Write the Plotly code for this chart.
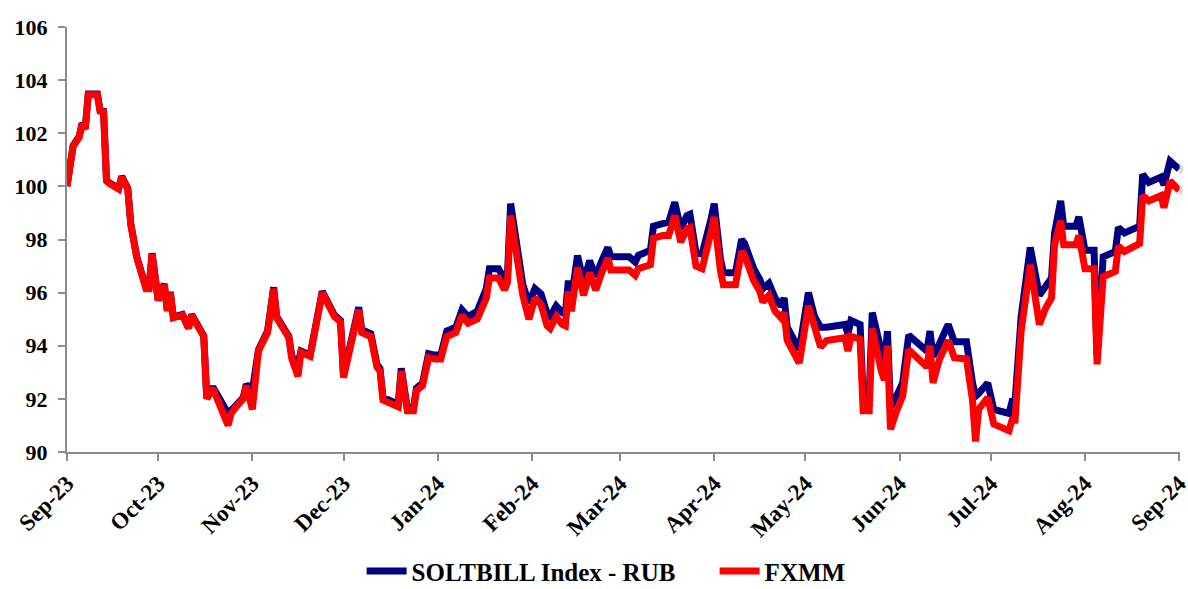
import plotly.graph_objects as go

dates = [
    "2023-09-01","2023-09-03","2023-09-05","2023-09-06","2023-09-07","2023-09-08","2023-09-11","2023-09-12",
    "2023-09-13","2023-09-14","2023-09-15","2023-09-18","2023-09-19","2023-09-21","2023-09-22","2023-09-24",
    "2023-09-27","2023-09-28","2023-09-29","2023-10-01","2023-10-03","2023-10-04","2023-10-05","2023-10-06",
    "2023-10-09","2023-10-11","2023-10-12","2023-10-16","2023-10-17","2023-10-19","2023-10-24","2023-10-25",
    "2023-10-27","2023-10-29","2023-10-30","2023-11-01","2023-11-03","2023-11-06","2023-11-08","2023-11-09",
    "2023-11-13","2023-11-14","2023-11-16","2023-11-17","2023-11-20","2023-11-21","2023-11-24","2023-11-28",
    "2023-11-30","2023-12-01","2023-12-04","2023-12-06","2023-12-07","2023-12-10","2023-12-12","2023-12-13",
    "2023-12-14","2023-12-17","2023-12-19","2023-12-20","2023-12-22","2023-12-24","2023-12-25","2023-12-27",
    "2023-12-29","2023-12-31","2024-01-02","2024-01-04","2024-01-07","2024-01-09","2024-01-11","2024-01-14",
    "2024-01-17","2024-01-18","2024-01-21","2024-01-23","2024-01-24","2024-01-25","2024-01-27","2024-01-29",
    "2024-01-31","2024-02-02","2024-02-04","2024-02-06","2024-02-07","2024-02-09","2024-02-11","2024-02-12",
    "2024-02-13","2024-02-14","2024-02-16","2024-02-18","2024-02-20","2024-02-22","2024-02-24","2024-02-26",
    "2024-02-27","2024-03-04","2024-03-06","2024-03-07","2024-03-11","2024-03-12","2024-03-15","2024-03-17",
    "2024-03-19","2024-03-21","2024-03-23","2024-03-24","2024-03-26","2024-03-28","2024-03-31","2024-04-01",
    "2024-04-03","2024-04-04","2024-04-08","2024-04-10","2024-04-11","2024-04-14","2024-04-16","2024-04-17",
    "2024-04-19","2024-04-21","2024-04-23","2024-04-24","2024-04-25","2024-04-28","2024-04-29","2024-05-02",
    "2024-05-04","2024-05-06","2024-05-08","2024-05-14","2024-05-15","2024-05-16","2024-05-19","2024-05-20",
    "2024-05-22","2024-05-23","2024-05-26","2024-05-27","2024-05-28","2024-05-29","2024-05-31","2024-06-02",
    "2024-06-04","2024-06-10","2024-06-11","2024-06-12","2024-06-14","2024-06-17","2024-06-19","2024-06-23",
    "2024-06-25","2024-06-26","2024-06-27","2024-06-30","2024-07-02","2024-07-07","2024-07-08","2024-07-09",
    "2024-07-11","2024-07-14","2024-07-17","2024-07-19","2024-07-21","2024-07-22","2024-07-24","2024-07-25",
    "2024-07-29","2024-07-30","2024-08-01","2024-08-04","2024-08-05","2024-08-07","2024-08-11","2024-08-12",
    "2024-08-14","2024-08-19","2024-08-20","2024-08-22","2024-08-26","2024-08-27","2024-08-29","2024-09-01",
]

fxmm = [
    100.0,101.5,101.85,102.35,102.15,103.45,103.45,102.75,
    102.9,100.2,100.1,99.9,100.35,99.9,98.55,97.3,
    96.15,96.15,97.45,95.7,96.3,95.3,96.0,95.05,
    95.15,94.65,95.15,94.35,92.0,92.4,91.0,91.45,
    91.75,92.0,92.5,91.6,93.8,94.5,96.15,95.05,
    94.3,93.5,92.85,93.75,93.6,94.2,96.0,95.1,
    94.9,92.8,94.4,95.35,94.5,94.35,93.2,93.05,
    91.95,91.8,91.7,93.05,91.55,91.55,92.3,92.5,
    93.55,93.5,93.5,94.35,94.5,95.15,94.85,95.0,
    95.8,96.55,96.55,96.1,96.4,98.9,97.55,95.9,
    95.0,95.8,95.55,94.75,94.65,95.1,94.8,94.75,
    96.05,95.3,96.95,95.9,96.75,96.1,96.75,97.3,
    96.85,96.85,96.65,96.9,97.05,98.05,98.15,98.15,
    98.9,97.9,98.4,98.45,97.0,96.9,98.3,98.85,
    96.85,96.3,96.3,97.55,97.4,96.45,96.05,95.65,
    95.9,95.3,95.05,95.25,94.2,93.65,93.35,95.5,
    94.65,93.95,94.2,94.3,93.8,94.35,94.25,91.55,
    91.55,94.65,93.05,92.7,94.0,90.85,91.55,92.1,
    93.85,93.2,94.0,92.6,93.45,94.2,93.55,93.5,
    91.95,90.4,91.6,92.05,91.05,90.8,91.2,91.2,
    94.55,97.05,94.8,95.4,95.8,97.8,98.7,97.8,
    97.8,98.15,96.9,96.9,93.3,96.6,96.8,97.75,
    97.55,97.85,99.65,99.45,99.65,99.2,100.2,99.85,
]

soltbill = [
    100.02,101.53,101.88,102.38,102.18,103.48,103.48,102.78,
    102.93,100.23,100.13,99.93,100.38,99.93,98.58,97.33,
    96.18,96.18,97.48,95.73,96.33,95.33,96.03,95.08,
    95.18,94.68,95.18,94.38,92.03,92.45,91.45,91.55,
    91.8,92.05,92.55,92.3,93.85,94.55,96.2,95.1,
    94.35,93.6,93.3,93.8,93.65,94.25,96.05,95.15,
    94.95,92.9,94.5,95.45,94.6,94.45,93.3,93.15,
    92.05,91.9,91.8,93.15,91.65,91.65,92.4,92.6,
    93.7,93.65,93.65,94.55,94.7,95.35,95.1,95.3,
    96.15,96.9,96.9,96.5,96.8,99.35,97.95,96.3,
    95.6,96.15,95.95,95.2,95.1,95.5,95.25,95.2,
    96.45,95.75,97.4,96.4,97.2,96.6,97.2,97.7,
    97.35,97.35,97.15,97.4,97.6,98.5,98.6,98.65,
    99.4,98.4,98.9,98.95,97.5,97.45,98.8,99.35,
    97.3,96.75,96.75,98.0,97.85,96.9,96.5,96.15,
    96.35,95.8,95.5,95.8,94.7,94.1,93.85,96.0,
    95.1,94.7,94.7,94.8,94.45,94.95,94.8,92.1,
    92.1,95.25,93.6,93.3,94.55,91.7,92.1,92.6,
    94.4,93.8,94.55,93.6,94.05,94.8,94.15,94.15,
    92.6,92.1,92.2,92.6,91.6,91.45,91.9,91.9,
    95.1,97.7,95.9,96.2,96.55,98.25,99.45,98.5,
    98.5,98.85,97.6,97.6,93.6,97.35,97.55,98.45,
    98.25,98.5,100.45,100.15,100.35,100.05,100.95,100.65,
]

series_names = ["SOLTBILL Index - RUB", "FXMM"]
series_colors = ["#000080", "#FF0000"]
y_ticks = [90, 92, 94, 96, 98, 100, 102, 104, 106]
x_ticks = ["2023-09-01","2023-10-01","2023-11-01","2023-12-01","2024-01-01","2024-02-01","2024-03-01",
           "2024-04-01","2024-05-01","2024-06-01","2024-07-01","2024-08-01","2024-09-01"]
x_labels = ["Sep-23","Oct-23","Nov-23","Dec-23","Jan-24","Feb-24","Mar-24",
            "Apr-24","May-24","Jun-24","Jul-24","Aug-24","Sep-24"]
x_range = ["2023-09-01", "2024-09-01 04:00"]

FONT = "Liberation Serif"
fig = go.Figure()

# soft drop shadow (drawn on an offset copy of the axes)
for vals in (soltbill, fxmm):
    fig.add_trace(go.Scatter(x=dates, y=vals, mode="lines", xaxis="x", yaxis="y",
                             line=dict(color="rgba(0,0,0,0.15)", width=9),
                             showlegend=False, hoverinfo="skip"))

for vals, name, col in zip((soltbill, fxmm), series_names, series_colors):
    fig.add_trace(go.Scatter(x=dates, y=vals, mode="lines", name=name, xaxis="x2", yaxis="y2",
                             line=dict(color=col, width=7)))

fig.update_layout(
    width=1188, height=589,
    margin=dict(l=67, r=5, t=27, b=134, autoexpand=False),
    paper_bgcolor="white", plot_bgcolor="white",
    font=dict(family=FONT, size=20, color="black", weight="bold"),
    showlegend=True,
    legend=dict(orientation="h", x=0.264, xanchor="left", yref="container", y=0.03, yanchor="middle",
                font=dict(family=FONT, size=25, color="black", weight="bold"),
                itemwidth=40, tracegroupgap=0, entrywidth=298, entrywidthmode="pixels"),
    xaxis=dict(type="date", range=x_range, domain=[0.003, 1], visible=False),
    yaxis=dict(range=[90, 106], domain=[0, 0.993], visible=False),
    xaxis2=dict(type="date", range=x_range, domain=[0, 0.997], anchor="y2", automargin=False,
                tickvals=x_ticks, ticktext=x_labels, tickangle=-45, ticklabeloverflow="allow",
                showline=True, linecolor="#8c8c8c", linewidth=2,
                ticks="outside", ticklen=7, tickwidth=2, tickcolor="#8c8c8c",
                showgrid=False, zeroline=False,
                tickfont=dict(family=FONT, size=23, color="black", weight="bold")),
    yaxis2=dict(range=[90, 106], tickvals=y_ticks, domain=[0.007, 1], anchor="x2", automargin=False,
                showline=True, linecolor="#8c8c8c", linewidth=2,
                ticks="outside", ticklen=7, tickwidth=2, tickcolor="#8c8c8c",
                showgrid=False, zeroline=False, ticklabelstandoff=6,
                tickfont=dict(family=FONT, size=22, color="black", weight="bold")),
)

fig.write_html("out.html")
